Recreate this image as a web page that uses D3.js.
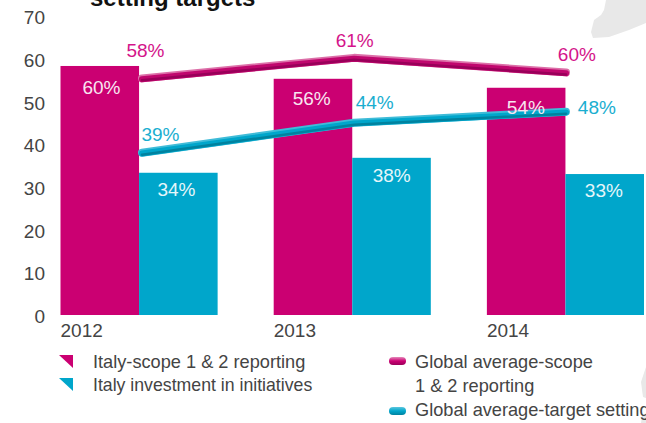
<!DOCTYPE html>
<html>
<head>
<meta charset="utf-8">
<script src="https://cdn.jsdelivr.net/npm/d3@7"></script>
<style>
  html, body { margin: 0; padding: 0; background: #fff; overflow: hidden; }
  text { font-family: "Liberation Sans", Arial, sans-serif; }
</style>
</head>
<body>
<div id="chart"></div>
<script>
const years = ['2012', '2013', '2014'];
const italyScope = [58.3, 55.3, 53.2];
const italyInvestment = [33.3, 36.8, 33];
const globalScope = [55.4, 60.2, 56.8];
const globalTarget = [38, 45, 47.6];
const italyScopeLabels = ['60%', '56%', '54%'];
const italyInvestmentLabels = ['34%', '38%', '33%'];
const globalScopeLabels = ['58%', '61%', '60%'];
const globalTargetLabels = ['39%', '44%', '48%'];
const yTicks = [0, 10, 20, 30, 40, 50, 60, 70];

const pink = '#cb0072';
const blue = '#00a6cb';
const pinkText = '#d4148a';
const blueText = '#1aaed0';

const width = 646;
const height = 423;

const svg = d3.select('#chart').append('svg')
  .attr('width', width)
  .attr('height', height)
  .style('display', 'block');

const x = d3.scaleBand().domain(years).range([60.5, 644]).paddingInner(0.263).paddingOuter(0);
const inner = d3.scaleBand().domain([0, 1]).range([0, x.bandwidth()]);
const xLine = d3.scalePoint().domain(years).range([142, 566]);
const y = d3.scaleLinear().domain([0, 70]).range([315, 16]);

// grey map behind the chart, cut off by the crop
const mapShapes = [
  'M606,0 L604,10 L601,15 L594,20 L591,32 L593,38 L609,37 L629,30 L646,23 L646,0 Z',
  'M646,367 L641,382 L643,397 L646,398 Z',
  'M641,423 L642,416 L646,414 L646,423 Z'
];
svg.append('g').selectAll('path')
  .data(mapShapes)
  .join('path')
  .attr('d', d => d)
  .attr('fill', '#e8e8e8');

// cropped title
svg.append('text')
  .attr('x', 90)
  .attr('y', 6)
  .attr('font-size', 24)
  .attr('font-weight', 'bold')
  .attr('fill', '#111')
  .text('setting targets');

// axes
const yaxis = d3.axisLeft(y).tickValues(yTicks).tickSize(0).tickPadding(0);
svg.append('g')
  .attr('transform', 'translate(45,1.5)')
  .call(yaxis)
  .call(g => g.select('.domain').remove())
  .selectAll('text')
  .attr('font-size', 19)
  .attr('fill', '#444');

const xaxis = d3.axisBottom(x).tickSize(0).tickPadding(0);
svg.append('g')
  .attr('transform', 'translate(0,323)')
  .call(xaxis)
  .call(g => g.select('.domain').remove())
  .call(g => g.selectAll('.tick').attr('transform', d => 'translate(' + x(d) + ',0)'))
  .selectAll('text')
  .attr('text-anchor', 'start')
  .attr('font-size', 19)
  .attr('fill', '#444');

// bars
svg.append('g').selectAll('rect')
  .data(years)
  .join('rect')
  .attr('x', d => x(d))
  .attr('y', (d, i) => y(italyScope[i]))
  .attr('width', inner.bandwidth())
  .attr('height', (d, i) => y(0) - y(italyScope[i]))
  .attr('fill', pink);

svg.append('g').selectAll('rect')
  .data(years)
  .join('rect')
  .attr('x', d => x(d) + inner(1))
  .attr('y', (d, i) => y(italyInvestment[i]))
  .attr('width', inner.bandwidth())
  .attr('height', (d, i) => y(0) - y(italyInvestment[i]))
  .attr('fill', blue);

// lines are stacked strokes to get the rounded tube look
function tube(values, light, mid, dark) {
  const line = d3.line()
    .x((d, i) => xLine(years[i]))
    .y(d => y(d));
  const g = svg.append('g')
    .attr('fill', 'none')
    .attr('stroke-linecap', 'round')
    .attr('stroke-linejoin', 'round');
  g.append('path').attr('d', line(values)).attr('stroke', light).attr('stroke-width', 8);
  g.append('path').attr('d', line(values)).attr('stroke', mid).attr('stroke-width', 6)
    .attr('transform', 'translate(0,0.8)');
  g.append('path').attr('d', line(values)).attr('stroke', dark).attr('stroke-width', 2.5)
    .attr('transform', 'translate(0,2)');
}
tube(globalScope, '#dc6fa8', '#c0076e', '#99005a');
tube(globalTarget, '#40bcd8', '#00a6cb', '#00829f');

// value labels
function labels(values, texts, color, dx, dy) {
  svg.append('g').selectAll('text')
    .data(texts)
    .join('text')
    .attr('x', (d, i) => x(years[i]) + dx[i])
    .attr('y', (d, i) => y(values[i]) + dy[i])
    .attr('text-anchor', 'middle')
    .attr('font-size', 19)
    .attr('fill', color)
    .text(d => d);
}
labels(italyScope, italyScopeLabels, '#f8e6f0', [41, 38, 39], [28, 26, 26]);
labels(italyInvestment, italyInvestmentLabels, '#e6f6fa', [116, 118, 117], [23, 24, 23]);
labels(globalScope, globalScopeLabels, pinkText, [85, 81, 90], [-21, -11, -11]);
labels(globalTarget, globalTargetLabels, blueText, [100, 101, 110], [-12, -14, 2]);

// legend
const legendLeft = ['Italy-scope 1 & 2 reporting', 'Italy investment in initiatives'];
const legendRight = ['Global average-scope', '1 & 2 reporting', 'Global average-target setting'];
const legendColors = [pink, blue];

svg.append('g').selectAll('path')
  .data(legendColors)
  .join('path')
  .attr('d', (d, i) => {
    const top = 355 + i * 23;
    return 'M59,' + top + ' L73,' + top + ' L73,' + (top + 13) + ' Z';
  })
  .attr('fill', d => d);

svg.append('g').selectAll('text')
  .data(legendLeft)
  .join('text')
  .attr('x', 93)
  .attr('y', (d, i) => 368 + i * 23)
  .attr('font-size', (d, i) => i === 0 ? 18.2 : 17.7)
  .attr('fill', '#444')
  .text(d => d);

svg.append('g').selectAll('text')
  .data(legendRight)
  .join('text')
  .attr('x', 415)
  .attr('y', (d, i) => 368 + i * 24)
  .attr('font-size', 18.2)
  .attr('fill', '#444')
  .text(d => d);

// small tube swatches
const defs = svg.append('defs');
const pillColors = [
  { id: 'pill-pink', top: 357, light: '#e58abb', mid: pink, dark: '#99005a' },
  { id: 'pill-blue', top: 407, light: '#5cc6de', mid: blue, dark: '#00829f' }
];
pillColors.forEach(p => {
  const grad = defs.append('linearGradient')
    .attr('id', p.id)
    .attr('x1', 0).attr('x2', 0).attr('y1', 0).attr('y2', 1);
  grad.append('stop').attr('offset', '0%').attr('stop-color', p.light);
  grad.append('stop').attr('offset', '50%').attr('stop-color', p.mid);
  grad.append('stop').attr('offset', '100%').attr('stop-color', p.dark);
});
svg.append('g').selectAll('rect')
  .data(pillColors)
  .join('rect')
  .attr('x', 389)
  .attr('y', d => d.top)
  .attr('width', 17)
  .attr('height', 8)
  .attr('rx', 4)
  .attr('fill', d => 'url(#' + d.id + ')');
</script>
</body>
</html>
